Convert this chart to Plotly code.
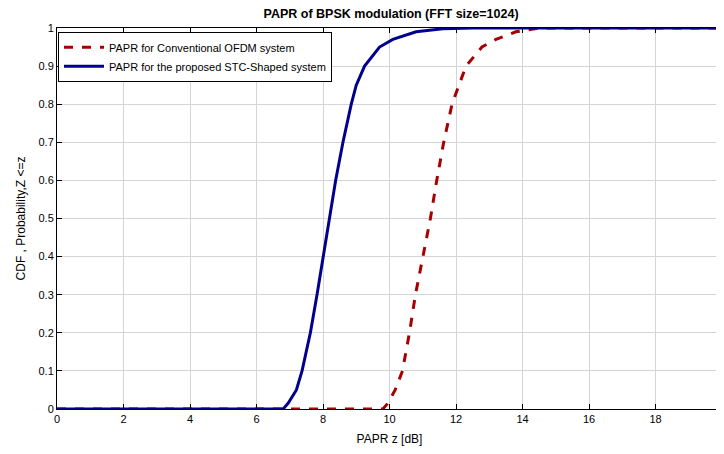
import plotly.graph_objects as go

# CDF of PAPR
conv_papr_db = [0, 9.8, 9.95, 10.08, 10.17, 10.39, 10.6, 10.78, 11.0, 11.23, 11.42, 11.63, 11.88, 12.1, 12.3, 12.78, 13.2, 13.8, 14.5, 20]
conv_cdf = [0, 0, 0.015, 0.035, 0.05, 0.1, 0.2, 0.3, 0.4, 0.5, 0.6, 0.7, 0.8, 0.85, 0.9, 0.95, 0.97, 0.99, 1.0, 1.0]

stc_papr_db = [0, 6.8, 6.95, 7.1, 7.2, 7.37, 7.62, 7.82, 8.0, 8.19, 8.38, 8.6, 8.85, 9.0, 9.25, 9.7, 10.1, 10.8, 11.6, 12.5, 20]
stc_cdf = [0, 0, 0.015, 0.035, 0.05, 0.1, 0.2, 0.3, 0.4, 0.5, 0.6, 0.7, 0.8, 0.85, 0.9, 0.95, 0.97, 0.99, 0.998, 1.0, 1.0]

x_ticks = list(range(0, 21, 2))
y_ticks = [i / 10 for i in range(11)]
y_tick_labels = ["0", "0.1", "0.2", "0.3", "0.4", "0.5", "0.6", "0.7", "0.8", "0.9", "1"]

fig = go.Figure()
fig.add_trace(go.Scatter(x=conv_papr_db, y=conv_cdf, mode="lines",
                         name="PAPR for Conventional OFDM system",
                         line=dict(color="#a80000", width=3, dash="dash")))
fig.add_trace(go.Scatter(x=stc_papr_db, y=stc_cdf, mode="lines",
                         name="PAPR for the proposed STC-Shaped system",
                         line=dict(color="#00008c", width=3)))

axis_style = dict(showline=True, linecolor="black", linewidth=1, mirror="ticks",
                  ticks="inside", ticklen=5, tickcolor="black", automargin=False,
                  showgrid=True, gridcolor="#d4d4d4", gridwidth=1, zeroline=False,
                  ticklabeloverflow="allow",
                  tickfont=dict(family="Liberation Sans", size=11, color="black"))

fig.update_xaxes(range=[0, 20], tickvals=x_ticks,
                 title=dict(text="PAPR z [dB]", font=dict(size=12, color="black"), standoff=10),
                 **axis_style)
fig.update_yaxes(range=[0, 1], tickvals=y_ticks, ticktext=y_tick_labels,
                 title=dict(text="CDF , Probability,Z <=z", font=dict(size=12, color="black"), standoff=10),
                 **axis_style)

# the page body adds an 8px margin, so the figure is a bit smaller than the window
fig.update_layout(
    width=716, height=446,
    margin=dict(l=49, r=2, t=20, b=45),
    paper_bgcolor="white", plot_bgcolor="white",
    font=dict(family="Liberation Sans", color="black"),
    title=dict(text="<b>PAPR of BPSK modulation (FFT size=1024)</b>", x=0.535, xanchor="center",
               y=0.988, yanchor="middle", font=dict(size=12.5, color="black")),
    legend=dict(x=0.0015, y=0.99, xanchor="left", yanchor="top", bgcolor="white",
                bordercolor="black", borderwidth=1, font=dict(size=11, color="black"),
                tracegroupgap=0, itemwidth=40),
    showlegend=True,
)

fig.write_html("out.html")
